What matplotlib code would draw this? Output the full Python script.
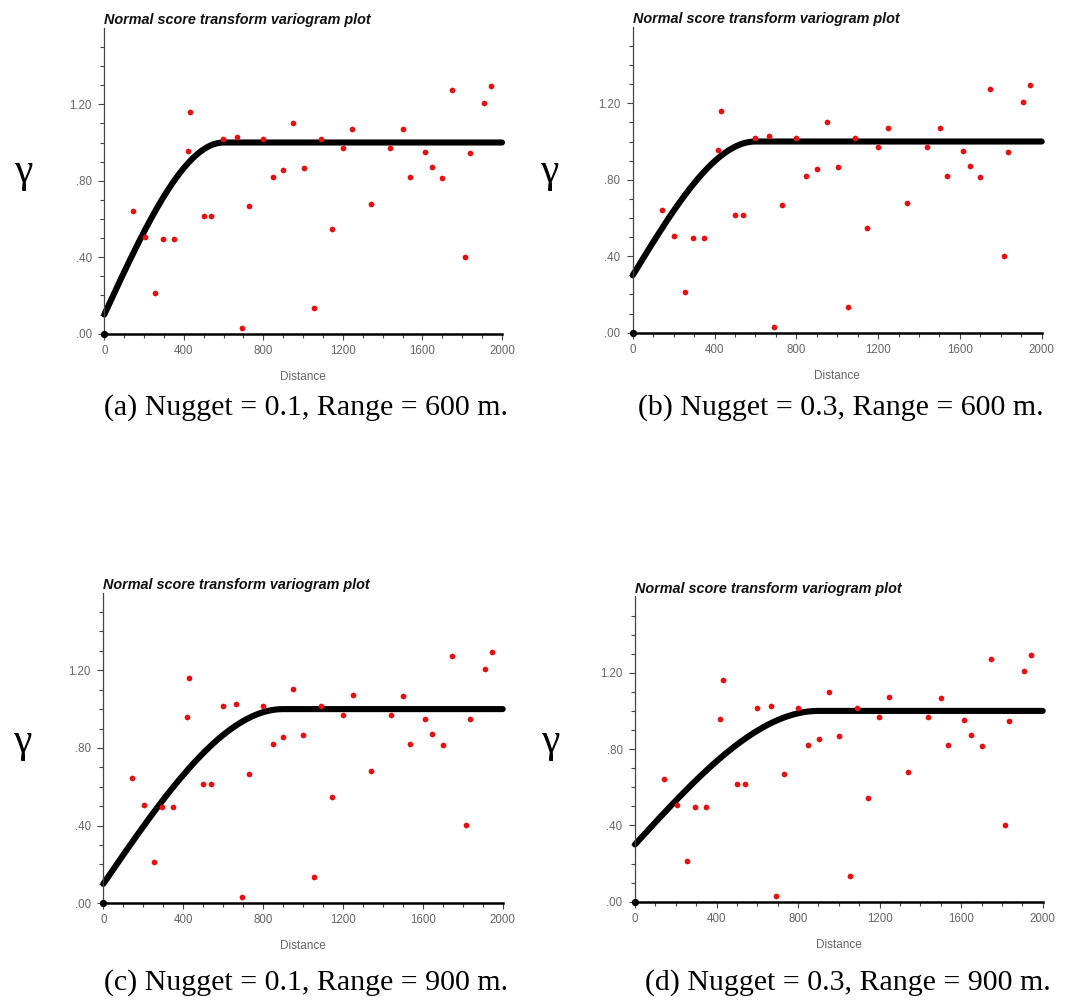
import numpy as np
import matplotlib.pyplot as plt
from matplotlib.ticker import MultipleLocator, FixedLocator, FixedFormatter

# experimental variogram points (same lags for every model)
lag_dist = [142, 204, 255, 296, 350, 419, 430, 499, 539, 598, 667, 693, 729, 799,
            849, 901, 950, 1002, 1054, 1089, 1144, 1198, 1248, 1340, 1439, 1502,
            1536, 1613, 1648, 1700, 1747, 1814, 1837, 1910, 1945]
gamma_exp = [0.644, 0.508, 0.213, 0.494, 0.494, 0.958, 1.162, 0.616, 0.616, 1.017,
             1.027, 0.031, 0.668, 1.017, 0.820, 0.855, 1.101, 0.869, 0.133, 1.017,
             0.546, 0.970, 1.073, 0.679, 0.970, 1.069, 0.822, 0.951, 0.872, 0.816,
             1.272, 0.401, 0.947, 1.207, 1.293]

nuggets = [0.1, 0.3, 0.1, 0.3]
ranges = [600, 600, 900, 900]
sill = 1.0
captions = ["(a) Nugget = 0.1, Range = 600 m.",
            "(b) Nugget = 0.3, Range = 600 m.",
            "(c) Nugget = 0.1, Range = 900 m.",
            "(d) Nugget = 0.3, Range = 900 m."]
x_ticks = [0, 400, 800, 1200, 1600, 2000]
y_ticks = [0.0, 0.4, 0.8, 1.2]
y_tick_labels = [".00", ".40", ".80", "1.20"]
title = "Normal score transform variogram plot"


def spherical(h, c0, a, c):
    h = np.asarray(h, dtype=float)
    r = np.clip(h / a, 0, 1)
    return c0 + (c - c0) * (1.5 * r - 0.5 * r ** 3)


W, H = 1067, 1002
fig = plt.figure(figsize=(W / 100, H / 100), dpi=100)

# left px, right px, zero line px (from top), px per unit gamma
boxes = [(104.3, 502.0, 333.7, 191.2),
         (632.7, 1041.7, 332.7, 191.2),
         (103.3, 502.7, 903.3, 194.2),
         (635.0, 1042.7, 901.7, 190.8)]
gamma_pos = [(23, 172), (549, 172), (22, 742), (550, 742)]
caption_pos = [(306, 408), (841, 408), (306, 983), (848, 983)]

ymax = 1.6
for i in range(4):
    l, r, y0, ppu = boxes[i]
    ax = fig.add_axes([l / W, (H - y0) / H, (r - l) / W, ymax * ppu / H])
    ax.set_xlim(0, 2000)
    ax.set_ylim(0, ymax)

    ax.scatter(lag_dist, gamma_exp, s=17, color="#e81010", zorder=3, linewidths=0)
    hh = np.linspace(0, 2000, 400)
    ax.plot(hh, spherical(hh, nuggets[i], ranges[i], sill), color="black",
            lw=4.4, solid_capstyle="round", clip_on=False, zorder=2)
    ax.scatter([0], [0], s=18, color="black", zorder=4, clip_on=False)

    for s in ["top", "right"]:
        ax.spines[s].set_visible(False)
    ax.spines["left"].set_color("#444444")
    ax.spines["left"].set_linewidth(0.9)
    ax.spines["bottom"].set_color("black")
    ax.spines["bottom"].set_linewidth(1.8)

    ax.xaxis.set_major_locator(FixedLocator(x_ticks))
    ax.xaxis.set_minor_locator(MultipleLocator(100))
    ax.yaxis.set_major_locator(FixedLocator(y_ticks))
    ax.yaxis.set_major_formatter(FixedFormatter(y_tick_labels))
    ax.yaxis.set_minor_locator(FixedLocator(np.arange(0.1, 1.55, 0.1)))
    ax.tick_params(axis="both", which="major", labelsize=8.3, labelcolor="#666666",
                   color="#444444", length=4, width=0.8)
    ax.tick_params(axis="both", which="minor", color="#444444", length=3, width=0.8)
    ax.tick_params(axis="x", pad=4)
    ax.tick_params(axis="y", pad=5)
    for lab in ax.get_xticklabels() + ax.get_yticklabels():
        lab.set_fontfamily("Liberation Sans")

    ax.set_xlabel("Distance", fontsize=8.5, color="#666666",
                  fontfamily="Liberation Sans", labelpad=10)
    ax.text(0.0, 1.025, title, transform=ax.transAxes, ha="left", va="center",
            fontsize=10.4, fontweight="bold", fontstyle="italic",
            fontfamily="Liberation Sans", color="#111111")

    gx, gy = gamma_pos[i]
    fig.text(gx / W, 1 - gy / H, "γ", fontsize=30, fontfamily="Liberation Serif",
             ha="center", va="center")
    cx, cy = caption_pos[i]
    fig.text(cx / W, 1 - cy / H, captions[i], fontsize=21.5,
             fontfamily="Liberation Serif", ha="center", va="center")

fig.savefig("out.png", dpi=100)
